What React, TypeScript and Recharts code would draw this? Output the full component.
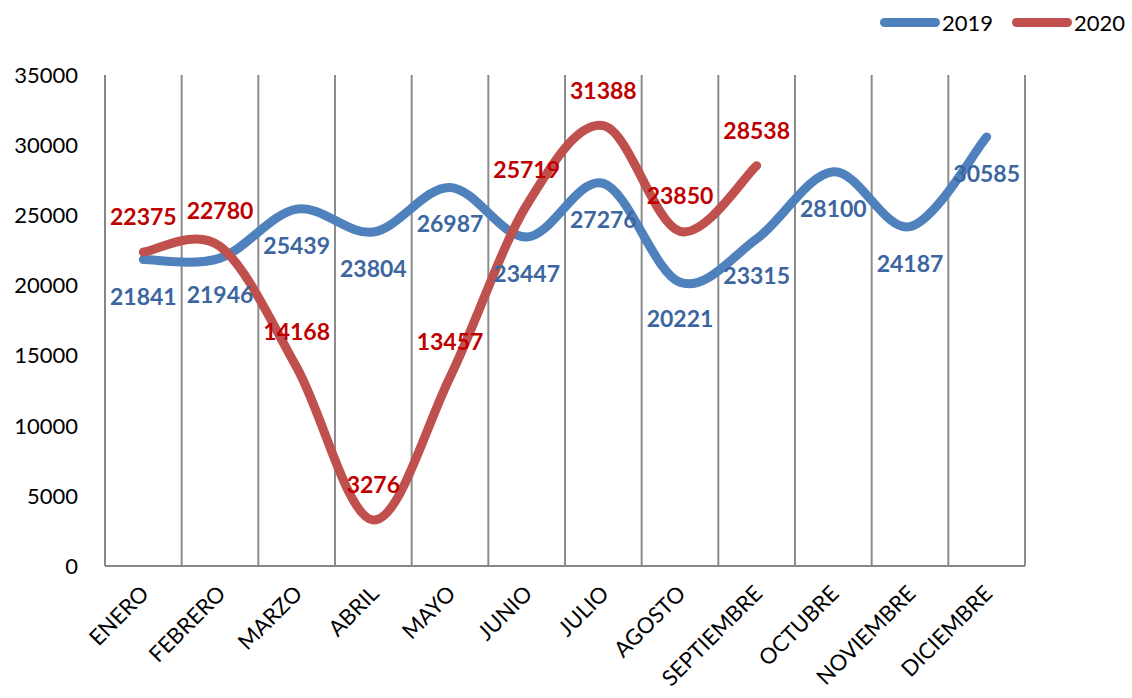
import React from 'react';
import { LineChart, Line, XAxis, YAxis, ReferenceLine, LabelList } from 'recharts';

const months = ['ENERO', 'FEBRERO', 'MARZO', 'ABRIL', 'MAYO', 'JUNIO', 'JULIO', 'AGOSTO', 'SEPTIEMBRE', 'OCTUBRE', 'NOVIEMBRE', 'DICIEMBRE'];
const values2019 = [21841, 21946, 25439, 23804, 26987, 23447, 27276, 20221, 23315, 28100, 24187, 30585];
const values2020 = [22375, 22780, 14168, 3276, 13457, 25719, 31388, 23850, 28538, null, null, null];
const yTicks = [0, 5000, 10000, 15000, 20000, 25000, 30000, 35000];
const seriesNames = ['2019', '2020'];

const data = months.map((m, i) => ({ month: m, y2019: values2019[i], y2020: values2020[i] }));

const FONT = 'Lato, "Open Sans", sans-serif';
const BLUE = '#4F81BD';
const RED = '#C0504D';

// smooth line like Excel's (catmull-rom, 1/6 control points)
const smoothCurve = (context: any) => {
  let pts: [number, number][] = [];
  return {
    areaStart() {},
    areaEnd() {},
    lineStart() { pts = []; },
    lineEnd() {
      const n = pts.length;
      if (!n) return;
      context.moveTo(pts[0][0], pts[0][1]);
      for (let i = 0; i < n - 1; i++) {
        const p0 = pts[Math.max(i - 1, 0)];
        const p1 = pts[i];
        const p2 = pts[i + 1];
        const p3 = pts[Math.min(i + 2, n - 1)];
        context.bezierCurveTo(
          p1[0] + (p2[0] - p0[0]) / 6, p1[1] + (p2[1] - p0[1]) / 6,
          p2[0] - (p3[0] - p1[0]) / 6, p2[1] - (p3[1] - p1[1]) / 6,
          p2[0], p2[1]
        );
      }
    },
    point(x: number, y: number) { pts.push([+x, +y]); },
  };
};

const makeLabel = (color: string, offset: number) => (props: any) => {
  const { x, y, value } = props;
  if (value == null) return null;
  return (
    <text x={x} y={y + offset} dy="0.35em" textAnchor="middle" fill={color} fontSize={23} fontWeight="bold" fontFamily={FONT}>
      {value}
    </text>
  );
};

const MonthTick = (props: any) => {
  const { x, y, payload } = props;
  const tx = x + 7;
  const ty = y + 21;
  return (
    <text x={tx} y={ty} textAnchor="end" fontSize={22} fontFamily={FONT} fill="#000" transform={`rotate(-45, ${tx}, ${ty})`}>
      {payload.value}
    </text>
  );
};

const App: React.FC = () => {
  return (
    <div style={{ position: 'absolute', left: 0, top: 0, width: 1132, height: 698, background: '#fff' }}>
      {/* Legend */}
      <div style={{ position: 'absolute', left: 880, top: 7, height: 30, display: 'flex', alignItems: 'center', fontFamily: FONT, fontSize: 22, color: '#000' }}>
        {seriesNames.map((name, i) => (
          <div key={name} style={{ display: 'flex', alignItems: 'center', marginRight: i === 0 ? 19 : 0 }}>
            <span style={{ display: 'inline-block', width: 60, height: 9, borderRadius: 5, background: i === 0 ? BLUE : RED, marginRight: 2 }} />
            <span>{name}</span>
          </div>
        ))}
      </div>

      <LineChart width={1132} height={698} data={data} margin={{ top: 75, right: 107, left: 10, bottom: 12 }} style={{ fontFamily: FONT }}>
        <XAxis
          dataKey="month"
          scale="band"
          height={120}
          interval={0}
          tickLine={false}
          axisLine={{ stroke: '#868686', strokeWidth: 2 }}
          tick={<MonthTick />}
        />
        <YAxis
          width={95}
          domain={[0, 35000]}
          ticks={yTicks}
          interval={0}
          tickLine={false}
          tickMargin={21}
          axisLine={{ stroke: '#868686', strokeWidth: 2 }}
          tick={{ fontSize: 22, fill: '#000', fontFamily: FONT }}
        />
        {months.map((m) => (
          <ReferenceLine key={m} x={m} position="start" stroke="#8c8c8c" strokeWidth={2} />
        ))}
        <ReferenceLine x={months[months.length - 1]} position="end" stroke="#8c8c8c" strokeWidth={2} />

        <Line
          dataKey="y2019"
          name={seriesNames[0]}
          type={smoothCurve as any}
          stroke={BLUE}
          strokeWidth={9}
          strokeLinecap="round"
          dot={false}
          activeDot={false}
          isAnimationActive={false}
        >
          <LabelList dataKey="y2019" content={makeLabel('#3C66A0', 37)} />
        </Line>
        <Line
          dataKey="y2020"
          name={seriesNames[1]}
          type={smoothCurve as any}
          stroke={RED}
          strokeWidth={9}
          strokeLinecap="round"
          dot={false}
          activeDot={false}
          isAnimationActive={false}
        >
          <LabelList dataKey="y2020" content={makeLabel('#C00000', -35)} />
        </Line>
      </LineChart>
    </div>
  );
};

export default App;
